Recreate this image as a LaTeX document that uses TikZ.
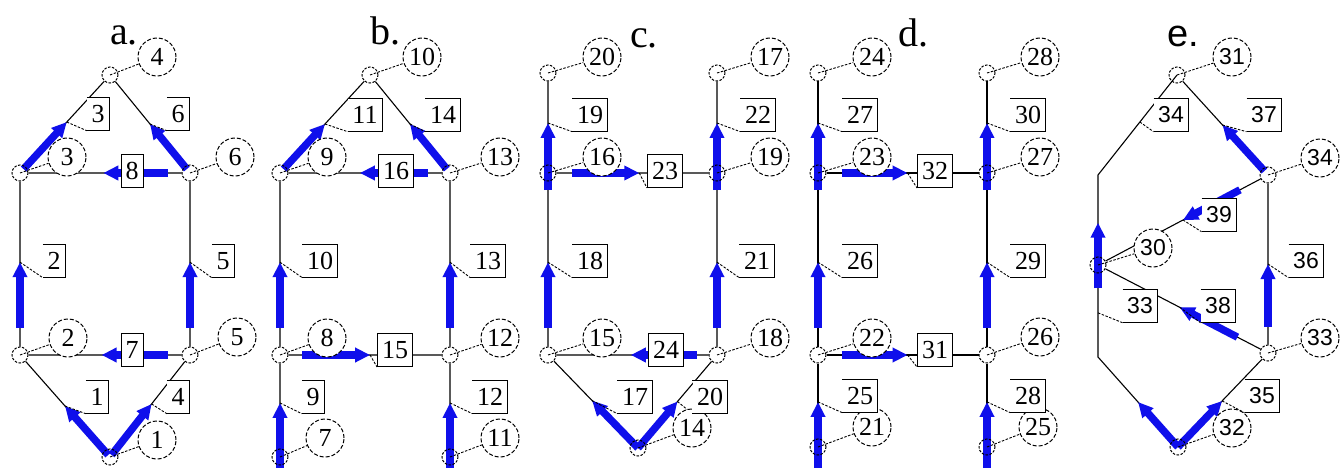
\documentclass[tikz,border=0pt]{standalone}
\usepackage{fontspec}
\setmainfont{Liberation Serif}
\newfontfamily\sansnum{Liberation Sans}
\usetikzlibrary{arrows.meta,calc}
\pgfdeclarelayer{back}\pgfdeclarelayer{mid}\pgfsetlayers{back,mid,main}
\definecolor{flowblue}{RGB}{15,15,235}
\newcommand\flowseg[4]{\draw[flow] ($(#1)!#3!(#2)$) -- ($(#1)!#4!(#2)$);}
\newcommand\tipldr[4]{\draw[ldr] ($(#1)!#3!(#2)$) -- (#4.south west);}
\tikzset{
 nfont/.style={font=\fontsize{26}{26}\selectfont},
 vtx/.style={circle,draw,dash pattern=on 2.5pt off 1.5pt,line width=1pt,minimum size=16pt,inner sep=0pt},
 clab/.style={circle,draw,fill=white,dash pattern=on 4pt off 2pt,line width=1pt,minimum size=38pt,inner sep=0pt,nfont},
 bx/.style={fill=white,inner xsep=4.5pt,inner ysep=0pt,minimum height=33pt,nfont},
 fbox/.style={bx,draw,line width=1pt},
 obox/.style={bx,append after command={(\tikzlastnode.north west) edge[line width=1pt] (\tikzlastnode.north east) (\tikzlastnode.north east) edge[line width=1pt] (\tikzlastnode.south east) (\tikzlastnode.south east) edge[line width=1pt] (\tikzlastnode.south west)}},
 edg/.style={line width=1.1pt},
 flow/.style={flowblue,line width=7.5pt,-{Triangle[length=15pt,width=14pt]}},
 ldr/.style={dash pattern=on 2.5pt off 1.5pt,line width=0.9pt},
 ttl/.style={font=\fontsize{40}{40}\selectfont,inner sep=0pt,anchor=base west},
}
\begin{document}
\begin{tikzpicture}[x=1pt,y=-1pt]
\useasboundingbox (0,0) rectangle (1341,468);
% titles
\node[ttl] (ta) at (110,45) {a.};
\node[ttl] (tb) at (370,45) {b.};
\node[ttl] (tc) at (630,48) {c.};
\node[ttl] (td) at (898,47) {d.};
\node[ttl,font=\sansnum\fontsize{38}{38}\selectfont] (te) at (1167,47) {e.};

% ---------- panel a ----------
\node[vtx] (v4) at (110,75) {};
\node[vtx] (v3) at (20,173) {};
\node[vtx] (v6) at (190,173) {};
\node[vtx] (v2) at (20,355) {};
\node[vtx] (v5) at (190,355) {};
\node[vtx] (v1) at (110,457) {};
\node[clab] (c4) at (157,57) {4};
\node[clab] (c3) at (67,157) {3};
\node[clab] (c6) at (235,157) {6};
\node[clab] (c2) at (68,338) {2};
\node[clab] (c5) at (237,337) {5};
\node[clab] (c1) at (157,440) {1};
\node[obox] (e3) at (98,114) {3};
\node[obox] (e6) at (178,114) {6};
\node[fbox] (e8) at (132,171) {8};
\node[obox] (e2) at (54,261) {2};
\node[obox] (e5) at (223,261) {5};
\node[fbox] (e7) at (132,350) {7};
\node[obox] (e1) at (97,397) {1};
\node[obox] (e4) at (178,397) {4};

% ---------- panel b ----------
\node[vtx] (v10) at (370,75) {};
\node[vtx] (v9) at (280,173) {};
\node[vtx] (v13) at (450,173) {};
\node[vtx] (v8) at (280,355) {};
\node[vtx] (v12) at (450,355) {};
\node[vtx] (v7) at (280,457) {};
\node[vtx] (v11) at (450,457) {};
\node[clab] (c10) at (422,57) {10};
\node[clab] (c9) at (327,157) {9};
\node[clab] (c13) at (500,157) {13};
\node[clab] (c8) at (327,338) {8};
\node[clab] (c12) at (500,338) {12};
\node[clab] (c7) at (325,438) {7};
\node[clab] (c11) at (500,438) {11};
\node[obox] (e11) at (365,115) {11};
\node[obox] (e14) at (443,115) {14};
\node[fbox] (e16) at (396,171) {16};
\node[obox] (e10) at (320,261) {10};
\node[obox] (e13) at (488,261) {13};
\node[fbox] (e15) at (395,350) {15};
\node[obox] (e9) at (313,397) {9};
\node[obox] (e12) at (490,397) {12};

% ---------- panel c ----------
\node[vtx] (v20) at (548,73) {};
\node[vtx] (v17) at (717,73) {};
\node[vtx] (v16) at (548,173) {};
\node[vtx] (v19) at (717,173) {};
\node[vtx] (v15) at (548,355) {};
\node[vtx] (v18) at (717,355) {};
\node[vtx] (v14) at (638,448) {};
\node[clab] (c20) at (602,57) {20};
\node[clab] (c17) at (770,57) {17};
\node[clab] (c16) at (602,157) {16};
\node[clab] (c19) at (770,157) {19};
\node[clab] (c15) at (602,338) {15};
\node[clab] (c18) at (770,338) {18};
\node[clab] (c14) at (692,428) {14};
\node[obox] (e19) at (590,115) {19};
\node[obox] (e22) at (758,115) {22};
\node[fbox] (e23) at (665,171) {23};
\node[obox] (e18) at (590,261) {18};
\node[obox] (e21) at (757,261) {21};
\node[fbox] (e24) at (666,350) {24};
\node[obox] (e17) at (635,397) {17};
\node[obox] (e20) at (710,397) {20};

% ---------- panel d ----------
\node[vtx] (v24) at (818,73) {};
\node[vtx] (v28) at (987,73) {};
\node[vtx] (v23) at (818,173) {};
\node[vtx] (v27) at (987,173) {};
\node[vtx] (v22) at (818,355) {};
\node[vtx] (v26) at (987,355) {};
\node[vtx] (v21) at (818,447) {};
\node[vtx] (v25) at (987,447) {};
\node[clab] (c24) at (872,57) {24};
\node[clab] (c28) at (1040,57) {28};
\node[clab] (c23) at (872,157) {23};
\node[clab] (c27) at (1040,157) {27};
\node[clab] (c22) at (872,338) {22};
\node[clab] (c26) at (1040,337) {26};
\node[clab] (c21) at (872,427) {21};
\node[clab] (c25) at (1038,427) {25};
\node[obox] (e27) at (860,115) {27};
\node[obox] (e30) at (1028,115) {30};
\node[fbox] (e32) at (935,171) {32};
\node[obox] (e26) at (860,261) {26};
\node[obox] (e29) at (1028,261) {29};
\node[fbox] (e31) at (935,350) {31};
\node[obox] (e25) at (860,396) {25};
\node[obox] (e28) at (1028,396) {28};

% ---------- panel e ----------
\begin{scope}[nfont/.style={font=\sansnum\fontsize{23}{23}\selectfont}]
\node[vtx] (v31) at (1177,75) {};
\node[vtx] (v34) at (1268,175) {};
\node[vtx] (v30) at (1098,265) {};
\node[vtx] (v33) at (1268,353) {};
\node[vtx] (v32) at (1178,447) {};
\coordinate (b1) at (1098,175);
\coordinate (b2) at (1098,357);
\node[clab] (c31) at (1232,57) {31};
\node[clab] (c34) at (1320,158) {34};
\node[clab] (c30) at (1153,248) {30};
\node[clab] (c33) at (1320,338) {33};
\node[clab] (c32) at (1232,428) {32};
\node[obox] (e34) at (1171,115) {34};
\node[obox] (e37) at (1264,115) {37};
\node[obox] (e39) at (1219,215) {39};
\node[obox] (e36) at (1306,261) {36};
\node[obox] (e33) at (1140,306) {33};
\node[obox] (e38) at (1218,306) {38};
\node[obox] (e35) at (1262,396) {35};
\end{scope}

% ---------- black edges ----------
\begin{pgfonlayer}{back}
\draw[edg] (v3)--(v4) (v6)--(v4) (v6)--(v3) (v2)--(v3) (v5)--(v6) (v5)--(v2) (v1)--(v2) (v1)--(v5);
\draw[edg] (v9)--(v10) (v13)--(v10) (v13)--(v9) (v8)--(v9) (v12)--(v13) (v8)--(v12) (v7)--(v8) (v11)--(v12);
\draw[edg] (v16)--(v20) (v19)--(v17) (v16)--(v19) (v15)--(v16) (v18)--(v19) (v18)--(v15) (v14)--(v15) (v14)--(v18);
\draw[edg] (v23)--(v24) (v27)--(v28) (v23)--(v27) (v22)--(v23) (v26)--(v27) (v22)--(v26) (v21)--(v22) (v25)--(v26);
\draw[edg] (v30.center)--(b1)--(v31.center) (v30.center)--(b2)--(v32.center) (v34)--(v31) (v34)--(v30) (v33)--(v34) (v33)--(v30) (v32)--(v33);
\end{pgfonlayer}

% ---------- flows and leaders ----------
\begin{pgfonlayer}{mid}
% panel a
\flowseg{v3}{v4}{0.04}{0.52}
\flowseg{v6}{v4}{0.04}{0.5}
\flowseg{v6}{v3}{0.13}{0.51}
\flowseg{v2}{v3}{0.15}{0.51}
\flowseg{v5}{v6}{0.15}{0.51}
\flowseg{v5}{v2}{0.13}{0.52}
\flowseg{v1}{v2}{0.02}{0.5}
\flowseg{v1}{v5}{0.02}{0.52}
\tipldr{v3}{v4}{0.52}{e3}
\tipldr{v6}{v4}{0.5}{e6}
\tipldr{v2}{v3}{0.51}{e2}
\tipldr{v5}{v6}{0.51}{e5}
\tipldr{v1}{v2}{0.5}{e1}
\tipldr{v1}{v5}{0.52}{e4}
% panel b
\flowseg{v9}{v10}{0.04}{0.5}
\flowseg{v13}{v10}{0.04}{0.5}
\flowseg{v13}{v9}{0.13}{0.53}
\flowseg{v8}{v9}{0.15}{0.51}
\flowseg{v12}{v13}{0.15}{0.51}
\flowseg{v8}{v12}{0.13}{0.53}
\flowseg{v7}{v8}{-0.12}{0.53}
\flowseg{v11}{v12}{-0.12}{0.53}
\tipldr{v9}{v10}{0.5}{e11}
\tipldr{v13}{v10}{0.5}{e14}
\tipldr{v8}{v9}{0.51}{e10}
\tipldr{v12}{v13}{0.51}{e13}
\tipldr{v8}{v12}{0.53}{e15}
\tipldr{v7}{v8}{0.53}{e9}
\tipldr{v11}{v12}{0.53}{e12}
% panel c
\flowseg{v16}{v20}{-0.17}{0.5}
\flowseg{v19}{v17}{-0.17}{0.5}
\flowseg{v16}{v19}{0.14}{0.54}
\flowseg{v15}{v16}{0.15}{0.51}
\flowseg{v18}{v19}{0.15}{0.51}
\flowseg{v18}{v15}{0.12}{0.51}
\flowseg{v14}{v15}{0}{0.51}
\flowseg{v14}{v18}{0}{0.5}
\tipldr{v16}{v20}{0.5}{e19}
\tipldr{v19}{v17}{0.5}{e22}
\tipldr{v16}{v19}{0.54}{e23}
\tipldr{v15}{v16}{0.51}{e18}
\tipldr{v18}{v19}{0.51}{e21}
\tipldr{v14}{v15}{0.51}{e17}
\tipldr{v14}{v18}{0.5}{e20}
% panel d
\flowseg{v23}{v24}{-0.17}{0.5}
\flowseg{v27}{v28}{-0.17}{0.5}
\flowseg{v23}{v27}{0.14}{0.53}
\flowseg{v22}{v23}{0.15}{0.51}
\flowseg{v26}{v27}{0.15}{0.51}
\flowseg{v22}{v26}{0.14}{0.53}
\flowseg{v21}{v22}{-0.23}{0.49}
\flowseg{v25}{v26}{-0.23}{0.49}
\tipldr{v23}{v24}{0.5}{e27}
\tipldr{v27}{v28}{0.5}{e30}
\tipldr{v23}{v27}{0.53}{e32}
\tipldr{v22}{v23}{0.51}{e26}
\tipldr{v26}{v27}{0.51}{e29}
\tipldr{v22}{v26}{0.53}{e31}
\tipldr{v21}{v22}{0.49}{e25}
\tipldr{v25}{v26}{0.49}{e28}
% panel e
\flowseg{v34}{v31}{0.04}{0.5}
\flowseg{v34}{v30}{0.165}{0.5}
\flowseg{v33}{v34}{0.146}{0.5}
\flowseg{v33}{v30}{0.18}{0.52}
\flowseg{v32}{v33}{0}{0.49}
\flowseg{v32}{b2}{0}{0.5}
\flowseg{v30}{b1}{-0.26}{0.47}
\tipldr{v34}{v31}{0.5}{e37}
\tipldr{v34}{v30}{0.5}{e39}
\tipldr{v33}{v34}{0.5}{e36}
\tipldr{v33}{v30}{0.52}{e38}
\tipldr{v32}{v33}{0.49}{e35}
\tipldr{v30}{b2}{0.52}{e33}
\tipldr{b1}{v31}{0.53}{e34}
% label circle leaders
\foreach \k in {1,...,28,30,31,32,33,34} {\draw[ldr] (v\k.center) -- (c\k);}
\end{pgfonlayer}
\end{tikzpicture}
\end{document}
